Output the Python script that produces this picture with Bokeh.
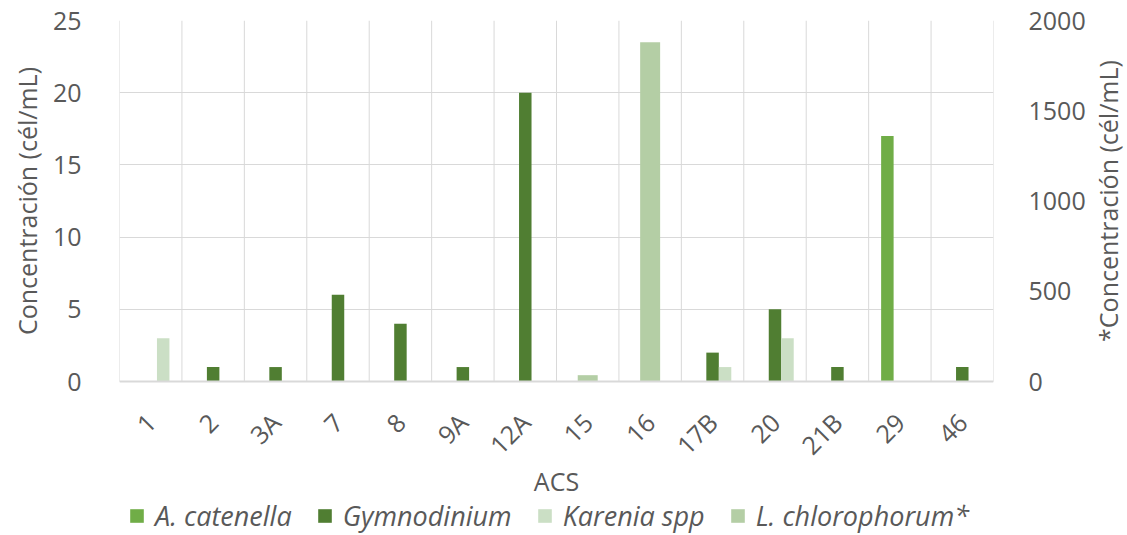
import math
import numpy as np
from bokeh.plotting import figure
from bokeh.models import (ColumnDataSource, Range1d, LinearAxis, FixedTicker,
                          Legend, LegendItem, Label)
from bokeh.transform import dodge
from bokeh.embed import file_html
from bokeh.resources import INLINE

# ---- data ----
stations = ["1", "2", "3A", "7", "8", "9A", "12A", "15", "16", "17B", "20", "21B", "29", "46"]
a_catenella = [0, 0, 0, 0, 0, 0, 0, 0, 0, 0, 0, 0, 17, 0]
gymnodinium = [0, 1, 1, 6, 4, 1, 20, 0, 0, 2, 5, 1, 0, 1]
karenia_spp = [3, 0, 0, 0, 0, 0, 0, 0, 0, 1, 3, 0, 0, 0]
l_chlorophorum = [0, 0, 0, 0, 0, 0, 0, 35, 1880, 0, 0, 0, 0, 0]   # secondary axis
left_ticks = [0, 5, 10, 15, 20, 25]
right_ticks = [0, 500, 1000, 1500, 2000]
series_names = ["A. catenella", "Gymnodinium", "Karenia spp", "L. chlorophorum*"]
left_title = "Concentración (cél/mL)"
right_title = "*Concentración (cél/mL)"
x_title = "ACS"

# ---- styles / layout ----
FONT = "Open Sans"
FS = "25px"
TXT = "#595959"
GRID = "#D9D9D9"
COLORS = ["#70AD47", "#507E32", "#CBDFC5", "#B4CEA5"]
PLOT_H = 361          # pixel height of the value area
BELOW_H = 154         # pixel room under the value area (labels + legend)
below_frac = BELOW_H / PLOT_H

n = len(stations)
ymax_l = left_ticks[-1]
ymax_r = right_ticks[-1]
src = ColumnDataSource(dict(
    x=[i + 0.5 for i in range(n)],
    a=a_catenella, g=gymnodinium, k=karenia_spp, l=l_chlorophorum,
))

p = figure(frame_width=874, frame_height=PLOT_H + BELOW_H,
           x_range=Range1d(0, n), y_range=Range1d(-ymax_l * below_frac, ymax_l),
           output_backend="svg", toolbar_location=None,
           min_border_left=119, min_border_right=134,
           min_border_top=20, min_border_bottom=0)
p.extra_y_ranges = {"r": Range1d(-ymax_r * below_frac, ymax_r)}
p.outline_line_color = None
p.background_fill_color = "white"
p.border_fill_color = "white"

# vertical grid lines at category boundaries (limited to the value area)
p.xgrid.visible = False
bounds = list(range(n + 1))
p.segment(x0=bounds, y0=[0] * len(bounds), x1=bounds, y1=[ymax_l] * len(bounds),
          line_color=GRID, line_width=1)
p.ygrid.ticker = FixedTicker(ticks=left_ticks)
p.ygrid.grid_line_color = GRID

bw = 0.2
r_a = p.vbar(x=dodge("x", -bw, range=p.x_range), top="a", width=bw, source=src,
             fill_color=COLORS[0], line_color=None)
r_g = p.vbar(x=dodge("x", 0, range=p.x_range), top="g", width=bw, source=src,
             fill_color=COLORS[1], line_color=None)
r_k = p.vbar(x=dodge("x", bw, range=p.x_range), top="k", width=bw, source=src,
             fill_color=COLORS[2], line_color=None)
r_l = p.vbar(x="x", top="l", width=0.32, source=src, y_range_name="r",
             fill_color=COLORS[3], line_color=None)

# x axis, drawn at value 0
xa = p.xaxis[0]
xa.fixed_location = 0
xa.ticker = FixedTicker(ticks=[i + 0.5 for i in range(n)])
xa.major_label_overrides = {i + 0.5: s for i, s in enumerate(stations)}
xa.major_label_orientation = math.pi / 4
xa.axis_label = x_title
xa.axis_line_color = GRID
xa.axis_line_width = 2
xa.major_tick_line_color = None
xa.minor_tick_line_color = None
xa.major_label_standoff = 30
xa.axis_label_standoff = -12

# left axis
ya = p.yaxis[0]
ya.ticker = FixedTicker(ticks=left_ticks)
ya.axis_line_color = None
ya.major_tick_line_color = None
ya.minor_tick_line_color = None
ya.major_label_standoff = 32

# right axis
ra = LinearAxis(y_range_name="r", ticker=FixedTicker(ticks=right_ticks))
ra.axis_line_color = None
ra.major_tick_line_color = None
ra.minor_tick_line_color = None
ra.major_label_standoff = 29
p.add_layout(ra, "right")

for ax in (xa, ya, ra):
    ax.major_label_text_font = FONT
    ax.major_label_text_font_size = FS
    ax.major_label_text_color = TXT
    ax.axis_label_text_font = FONT
    ax.axis_label_text_font_size = FS
    ax.axis_label_text_color = TXT
    ax.axis_label_text_font_style = "normal"

# axis titles as rotated labels centred on the value area
llab = Label(x=11, y=ymax_l / 2, x_units="screen", y_units="data",
             text=left_title, angle=math.pi / 2,
             text_align="center", text_baseline="middle",
             text_font=FONT, text_font_size=FS, text_color=TXT)
p.add_layout(llab, "left")
rlab = Label(x=19, y=ymax_r / 2, x_units="screen", y_units="data",
             y_range_name="r", text=right_title, angle=math.pi / 2,
             text_align="center", text_baseline="middle",
             text_font=FONT, text_font_size=FS, text_color=TXT)
p.add_layout(rlab, "right")

legend = Legend(items=[LegendItem(label=series_names[i], renderers=[r])
                       for i, r in enumerate([r_a, r_g, r_k, r_l])],
                orientation="horizontal", location=(9, 1),
                label_text_font=FONT, label_text_font_size="27px",
                label_text_font_style="italic", label_text_color=TXT,
                glyph_width=17, glyph_height=17, label_standoff=10,
                spacing=24, padding=0, margin=0,
                border_line_color=None, background_fill_alpha=0)
p.add_layout(legend, "center")

open("out.html", "w").write(file_html(p, INLINE))
